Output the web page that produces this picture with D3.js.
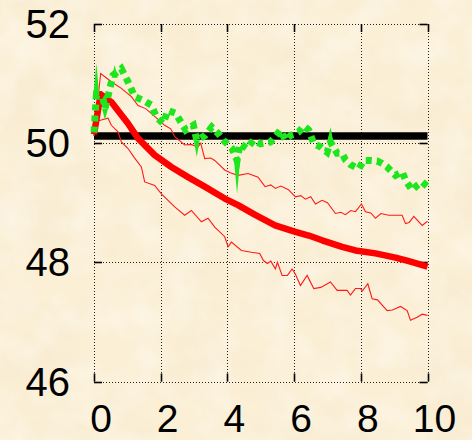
<!DOCTYPE html>
<html>
<head>
<meta charset="utf-8">
<script src="https://cdn.jsdelivr.net/npm/d3@7"></script>
<style>
  html, body { margin: 0; padding: 0; background: #fbeed5; }
  svg { display: block; }
</style>
</head>
<body>
<svg id="chart" width="472" height="440"></svg>
<script>
// ---- data ----
const xTicks = [0, 2, 4, 6, 8, 10];
const yTicks = [46, 48, 50, 52];

// reference level
const baseline = [[0, 50.12], [10, 50.12]];

// mean curve
const meanLine = [[0,50.15],[0.2,50.82],[0.52,50.69],[1.02,50.33],[1.32,50.08],[1.82,49.80],[2.32,49.60],[2.82,49.43],[3.32,49.27],[3.92,49.07],[4.32,48.96],[4.82,48.80],[5.43,48.62],[6.04,48.51],[6.44,48.45],[6.84,48.37],[7.44,48.26],[7.84,48.20],[8.44,48.15],[9.04,48.08],[9.44,48.02],[10,47.93]];

// upper envelope
const upperLine = [[0,50.12],[0.2,51.17],[0.52,51.03],[0.82,50.92],[1.12,50.78],[1.32,50.63],[1.55,50.58],[1.82,50.45],[2.12,50.3],[2.3,50.24],[2.42,50.11],[2.72,49.97],[2.9,49.98],[3.12,49.94],[3.2,50.0],[3.32,49.74],[3.5,49.75],[3.62,49.71],[3.92,49.55],[4.1,49.5],[4.32,49.46],[4.62,49.49],[4.92,49.43],[5.13,49.27],[5.3,49.3],[5.44,49.24],[5.6,49.28],[5.83,49.22],[6.04,49.10],[6.2,49.12],[6.34,49.06],[6.5,49.1],[6.64,48.98],[6.84,49.04],[7.0,49.0],[7.24,48.82],[7.4,48.84],[7.54,48.8],[7.7,48.87],[7.84,48.85],[8.02,48.98],[8.14,48.85],[8.3,48.83],[8.44,48.74],[8.6,48.82],[8.84,48.79],[9.24,48.79],[9.34,48.65],[9.45,48.67],[9.59,48.77],[9.84,48.62],[10,48.69]];

// lower envelope
const lowerLine = [[0,50.12],[0.02,50.36],[0.22,50.39],[0.42,50.42],[0.52,50.3],[0.72,50.19],[0.82,50.02],[1.02,49.91],[1.22,49.75],[1.42,49.6],[1.52,49.35],[1.82,49.29],[2.02,49.15],[2.22,49.04],[2.42,48.93],[2.72,48.79],[2.92,48.87],[3.22,48.68],[3.42,48.74],[3.62,48.59],[3.92,48.43],[4.02,48.26],[4.12,48.34],[4.42,48.2],[4.72,48.17],[4.97,48.15],[5.08,48.03],[5.2,47.98],[5.3,48.02],[5.44,47.89],[5.5,48.0],[5.64,47.78],[5.8,47.78],[5.94,47.89],[6.04,47.8],[6.19,47.61],[6.39,47.78],[6.59,47.56],[6.8,47.58],[7.09,47.67],[7.29,47.53],[7.59,47.53],[7.69,47.45],[7.84,47.56],[7.99,47.56],[8.05,47.52],[8.21,47.64],[8.34,47.39],[8.5,47.37],[8.79,47.19],[8.95,47.2],[9.19,47.26],[9.39,47.19],[9.49,47.03],[9.69,47.08],[9.84,47.13],[10,47.11]];

// green dotted series
const greenLine = [[0,50.18],[0.07,50.8],[0.27,50.75],[0.33,50.58],[0.57,51.14],[0.82,51.25],[1.02,51.03],[1.22,50.78],[1.47,50.72],[1.72,50.64],[1.87,50.44],[2.07,50.33],[2.22,50.55],[2.45,50.5],[2.63,50.33],[2.75,50.22],[2.98,50.30],[3.08,50.05],[3.33,50.13],[3.53,50.27],[3.73,50.16],[3.88,50.05],[4.14,49.91],[4.29,49.71],[4.38,49.99],[4.59,49.91],[4.78,50.05],[5.0,49.99],[5.29,50.02],[5.44,50.11],[5.59,50.22],[5.74,50.05],[5.89,50.13],[6.04,50.16],[6.14,50.19],[6.29,50.29],[6.44,50.22],[6.59,49.99],[6.79,49.94],[6.99,49.85],[7.09,50.02],[7.29,49.83],[7.44,49.83],[7.54,49.72],[7.69,49.64],[7.94,49.57],[8.09,49.71],[8.29,49.71],[8.49,49.70],[8.64,49.66],[8.79,49.60],[9.04,49.46],[9.24,49.52],[9.34,49.38],[9.54,49.21],[9.69,49.29],[9.84,49.35],[10,49.27]];

// sharp excursions of the green series: [x, from, to]
const greenSpikes = [[0.07,50.8,51.34],[0.33,50.58,50.39],[0.62,51.1,51.31],[3.08,50.05,49.77],[4.29,49.71,49.15],[7.09,50.02,50.27]];

// ---- layout ----
const W = 472, H = 440;
const plotL = 94, plotR = 427.5, plotT = 24, plotB = 381.5;

const svg = d3.select("#chart");

// parchment background
const defs = svg.append("defs");
const f = defs.append("filter").attr("id", "paper").attr("x", 0).attr("y", 0).attr("width", "100%").attr("height", "100%");
f.append("feTurbulence").attr("type", "fractalNoise").attr("baseFrequency", "0.012 0.02").attr("numOctaves", 4).attr("seed", 7).attr("result", "n");
f.append("feColorMatrix").attr("in", "n").attr("type", "matrix")
  .attr("values", "0 0 0 0 0.88  0 0 0 0 0.77  0 0 0 0 0.56  0.7 0 0 0 -0.30");
const f2 = defs.append("filter").attr("id", "paper2").attr("x", 0).attr("y", 0).attr("width", "100%").attr("height", "100%");
f2.append("feTurbulence").attr("type", "fractalNoise").attr("baseFrequency", "0.03").attr("numOctaves", 3).attr("seed", 3).attr("result", "n");
f2.append("feColorMatrix").attr("in", "n").attr("type", "matrix")
  .attr("values", "0 0 0 0 1  0 0 0 0 1  0 0 0 0 0.97  0.8 0 0 0 -0.32");

svg.append("rect").attr("width", W).attr("height", H).attr("fill", "#fbefd6");
svg.append("rect").attr("width", W).attr("height", H).attr("filter", "url(#paper)");
svg.append("rect").attr("width", W).attr("height", H).attr("filter", "url(#paper2)");

// ---- scales ----
const x = d3.scaleLinear().domain([0, 10]).range([plotL, plotR]);
const y = d3.scaleLinear().domain([46, 52]).range([plotB, plotT]);

// ---- grid ----
const grid = svg.append("g").attr("stroke", "#222").attr("stroke-width", 1).attr("stroke-dasharray", "1,2");
grid.selectAll("line.v").data(xTicks).join("line").attr("class", "v")
  .attr("x1", d => Math.round(x(d)) + 0.5).attr("x2", d => Math.round(x(d)) + 0.5)
  .attr("y1", plotT).attr("y2", plotB);
grid.selectAll("line.h").data(yTicks).join("line").attr("class", "h")
  .attr("y1", d => Math.round(y(d)) + 0.5).attr("y2", d => Math.round(y(d)) + 0.5)
  .attr("x1", plotL).attr("x2", plotR);

// ---- tick marks on all four sides ----
const tl = 8;
const ticks = svg.append("g").attr("stroke", "#000").attr("stroke-width", 1.6);
yTicks.forEach(v => {
  const yy = Math.round(y(v)) + 0.5;
  ticks.append("line").attr("x1", plotL).attr("x2", plotL + tl).attr("y1", yy).attr("y2", yy);
  ticks.append("line").attr("x1", plotR - tl).attr("x2", plotR).attr("y1", yy).attr("y2", yy);
});
xTicks.forEach(v => {
  const xx = Math.round(x(v)) + 0.5;
  ticks.append("line").attr("x1", xx).attr("x2", xx).attr("y1", plotB).attr("y2", plotB - tl);
  ticks.append("line").attr("x1", xx).attr("x2", xx).attr("y1", plotT).attr("y2", plotT + tl);
});

// ---- labels ----
const font = "'Liberation Sans', Arial, sans-serif";
svg.append("g").selectAll("text").data(yTicks).join("text")
  .attr("x", 70).attr("y", d => y(d) + 14)
  .attr("text-anchor", "end").attr("font-family", font).attr("font-size", 40).attr("fill", "#000")
  .text(d => d);
svg.append("g").selectAll("text").data(xTicks).join("text")
  .attr("x", d => x(d) + 7).attr("y", 432)
  .attr("text-anchor", "middle").attr("font-family", font).attr("font-size", 39).attr("fill", "#000")
  .text(d => d);

// ---- series ----
const line = d3.line().x(d => x(d[0])).y(d => y(d[1]));

svg.append("path").datum(baseline).attr("d", line)
  .attr("fill", "none").attr("stroke", "#000").attr("stroke-width", 7.5);

svg.append("path").datum(upperLine).attr("d", line)
  .attr("fill", "none").attr("stroke", "#ff1a1a").attr("stroke-width", 1.1).attr("stroke-linejoin", "miter");
svg.append("path").datum(lowerLine).attr("d", line)
  .attr("fill", "none").attr("stroke", "#ff1a1a").attr("stroke-width", 1.1).attr("stroke-linejoin", "miter");

svg.append("path").datum(meanLine).attr("d", line)
  .attr("fill", "none").attr("stroke", "#ff0000").attr("stroke-width", 6.5).attr("stroke-linejoin", "round");

svg.append("path").datum(greenLine).attr("d", line)
  .attr("fill", "none").attr("stroke", "#1ee61e").attr("stroke-width", 7)
  .attr("stroke-dasharray", "6,5").attr("stroke-linejoin", "miter");

svg.append("g").selectAll("path").data(greenSpikes).join("path")
  .attr("d", d => {
    const cx = x(d[0]), by = y(d[1]), ty = y(d[2]);
    return `M${cx - 3},${by}L${cx},${ty}L${cx + 3},${by}Z`;
  })
  .attr("fill", "#1ee61e");
</script>
</body>
</html>
